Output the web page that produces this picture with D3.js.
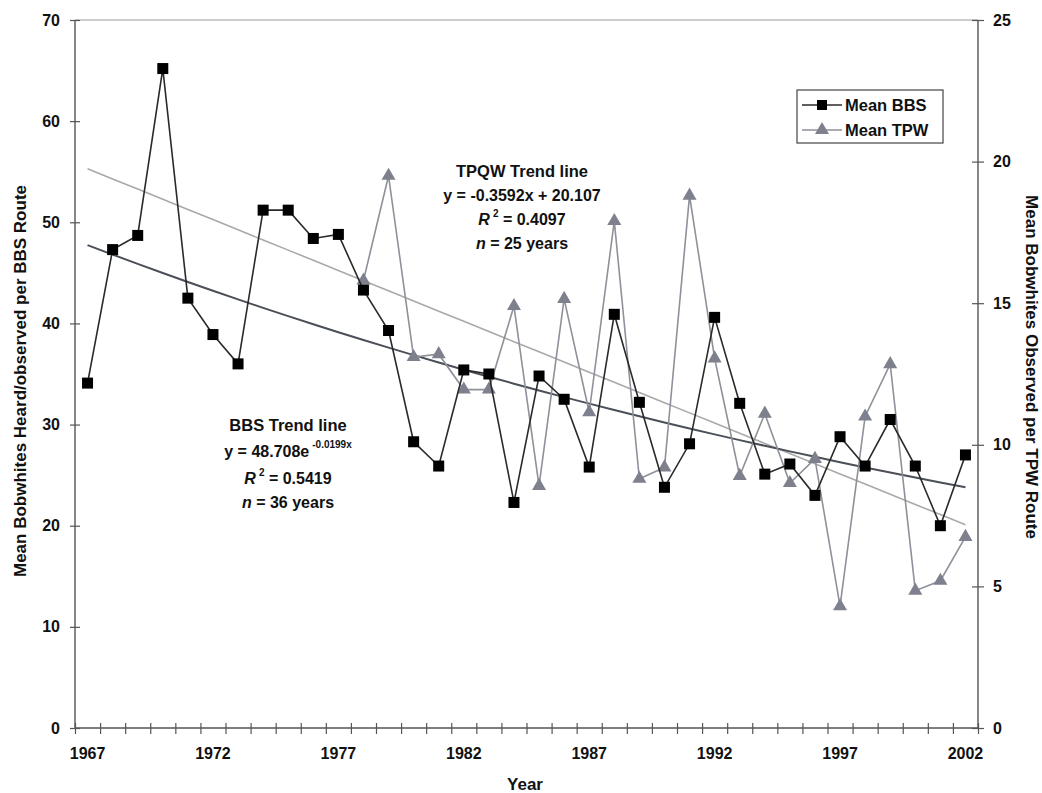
<!DOCTYPE html>
<html>
<head>
<meta charset="utf-8">
<script src="https://cdn.jsdelivr.net/npm/d3@7/dist/d3.min.js"></script>
<style>
  body { margin: 0; background: #fff; }
  svg text { font-family: "Liberation Sans", Arial, sans-serif; fill: #111; }
</style>
</head>
<body>
<script>
// - Bobwhite counts, BBS vs TPW -

// Data
const years = d3.range(1967, 2003);
const bbsMean = [34.1, 47.3, 48.7, 65.2, 42.5, 38.9, 36.0, 51.2, 51.2, 48.4,
                 48.8, 43.3, 39.3, 28.3, 25.9, 35.4, 35.0, 22.3, 34.8, 32.5,
                 25.8, 40.9, 32.2, 23.8, 28.1, 40.6, 32.1, 25.1, 26.1, 23.0,
                 28.8, 25.9, 30.5, 25.9, 20.0, 27.0];
const tpwYears = d3.range(1978, 2003);
const tpwMean = [15.8, 19.5, 13.1, 13.2, 11.95, 11.95, 14.9, 8.55, 15.15, 11.15,
                 17.9, 8.8, 9.2, 18.8, 13.05, 8.9, 11.1, 8.65, 9.5, 4.3,
                 11.0, 12.85, 4.85, 5.2, 6.75];
const xTickLabels = [1967, 1972, 1977, 1982, 1987, 1992, 1997, 2002];
const leftTicks = [0, 10, 20, 30, 40, 50, 60, 70];
const rightTicks = [0, 5, 10, 15, 20, 25];

// Trend lines (x = 1..36 from 1967)
const bbsTrend = i => 48.708 * Math.exp(-0.0199 * i);
const tpwTrend = i => -0.3592 * i + 20.107;

// Chart size
const w = 1042, h = 793;
const pLeft = 75, pRight = 978, pTop = 20, pBottom = 728;

const svg = d3.select("body").append("svg")
  .attr("width", w).attr("height", h);

// Scales
const x = d3.scaleLinear().domain([1966.5, 2002.5]).range([pLeft, pRight]);
const yL = d3.scaleLinear().domain([0, 70]).range([pBottom, pTop]);
const yR = d3.scaleLinear().domain([0, 25]).range([pBottom, pTop]);

// Plot border (top)
svg.append("line")
  .attr("x1", pLeft).attr("x2", pRight).attr("y1", pTop).attr("y2", pTop)
  .attr("stroke", "#9a9a9a").attr("stroke-width", 1.2);

// Axes
const axisColor = "#555";

const xAxis = svg.append("g")
  .attr("transform", `translate(0,${pBottom})`)
  .call(d3.axisBottom(x)
    .tickValues(d3.range(1966.5, 2003, 1))
    .tickSize(6).tickFormat(""));
xAxis.selectAll(".tick line").attr("y1", -5);

svg.append("g")
  .selectAll("text")
  .data(xTickLabels)
  .enter()
  .append("text")
  .attr("x", d => x(d))
  .attr("y", 759)
  .attr("text-anchor", "middle")
  .attr("font-size", 16)
  .attr("font-weight", "bold")
  .text(d => d);

const yAxisL = svg.append("g")
  .attr("transform", `translate(${pLeft},0)`)
  .call(d3.axisLeft(yL).tickValues(leftTicks).tickSize(5).tickPadding(10));
yAxisL.selectAll(".tick line").attr("x1", 5);

const yAxisR = svg.append("g")
  .attr("transform", `translate(${pRight},0)`)
  .call(d3.axisRight(yR).tickValues(rightTicks).tickSize(6).tickPadding(9));
yAxisR.selectAll(".tick line").attr("x1", -6);

[xAxis, yAxisL, yAxisR].forEach(g => {
  g.select(".domain").attr("stroke", axisColor).attr("stroke-width", 1.4);
  g.selectAll(".tick line").attr("stroke", axisColor).attr("stroke-width", 1.2);
  g.selectAll(".tick text").attr("font-size", 16).attr("fill", "#111")
    .attr("font-weight", "bold")
    .attr("font-family", "Liberation Sans, Arial, sans-serif");
});
xAxis.select(".domain").attr("d", `M${pLeft},0H${pRight}`);
yAxisL.select(".domain").attr("d", `M0,${pBottom}V${pTop}`);
yAxisR.select(".domain").attr("d", `M0,${pBottom}V${pTop}`);

// Axis titles
svg.append("text")
  .attr("transform", `translate(26,381) rotate(-90)`)
  .attr("text-anchor", "middle")
  .attr("font-size", 17).attr("font-weight", "bold")
  .text("Mean Bobwhites Heard/observed per BBS Route");

svg.append("text")
  .attr("transform", `translate(1026,367) rotate(90)`)
  .attr("text-anchor", "middle")
  .attr("font-size", 17).attr("font-weight", "bold")
  .text("Mean Bobwhites Observed per TPW Route");

svg.append("text")
  .attr("x", 525).attr("y", 790)
  .attr("text-anchor", "middle")
  .attr("font-size", 17).attr("font-weight", "bold")
  .text("Year");

// Trend lines
const idx = d3.range(1, 37);
svg.append("path")
  .datum(idx)
  .attr("fill", "none")
  .attr("stroke", "#a9a9a9").attr("stroke-width", 1.6)
  .attr("d", d3.line().x(i => x(1966 + i)).y(i => yR(tpwTrend(i))));

svg.append("path")
  .datum(idx)
  .attr("fill", "none")
  .attr("stroke", "#4a4f58").attr("stroke-width", 2)
  .attr("d", d3.line().x(i => x(1966 + i)).y(i => yL(bbsTrend(i))));

// TPW series
const tpw = tpwYears.map((yr, i) => ({ yr, v: tpwMean[i] }));
svg.append("path")
  .datum(tpw)
  .attr("fill", "none")
  .attr("stroke", "#8e9199").attr("stroke-width", 1.6)
  .attr("d", d3.line().x(d => x(d.yr)).y(d => yR(d.v)));

const tri = d3.symbol().type(d3.symbolTriangle).size(85);
svg.append("g")
  .selectAll("path")
  .data(tpw)
  .enter()
  .append("path")
  .attr("transform", d => `translate(${x(d.yr)},${yR(d.v)})`)
  .attr("d", tri)
  .attr("fill", "#7e818d");

// BBS series
const bbs = years.map((yr, i) => ({ yr, v: bbsMean[i] }));
svg.append("path")
  .datum(bbs)
  .attr("fill", "none")
  .attr("stroke", "#2a2a2a").attr("stroke-width", 1.6)
  .attr("d", d3.line().x(d => x(d.yr)).y(d => yL(d.v)));

svg.append("g")
  .selectAll("rect")
  .data(bbs)
  .enter()
  .append("rect")
  .attr("x", d => x(d.yr) - 5.5)
  .attr("y", d => yL(d.v) - 5.5)
  .attr("width", 11).attr("height", 11)
  .attr("fill", "#000");

// Annotations
function note(cx, ys, title, eq, r2, n) {
  const g = svg.append("g").attr("text-anchor", "middle")
    .attr("font-size", 16).attr("font-weight", "bold");
  g.append("text").attr("x", cx).attr("y", ys[0])
    .attr("font-size", 16.5).text(title);
  const e = g.append("text").attr("x", cx).attr("y", ys[1]);
  e.append("tspan").text(eq[0]);
  if (eq[1]) e.append("tspan").attr("dx", 3).attr("dy", -9).attr("font-size", 10).text(eq[1]);
  const r = g.append("text").attr("x", cx).attr("y", ys[2]);
  r.append("tspan").attr("font-style", "italic").text("R");
  r.append("tspan").attr("dx", 3).attr("dy", -8).attr("font-size", 10).text("2");
  r.append("tspan").attr("dy", 8).text(" = " + r2);
  const t = g.append("text").attr("x", cx).attr("y", ys[3]);
  t.append("tspan").attr("font-style", "italic").text("n");
  t.append("tspan").text(" = " + n);
}

note(522, [177, 201, 225, 249], "TPQW Trend line",
     ["y = -0.3592x + 20.107"], "0.4097", "25 years");
note(288, [431, 457, 484, 508], "BBS Trend line",
     ["y = 48.708e", "-0.0199x"], "0.5419", "36 years");

// Legend
const legend = svg.append("g").attr("transform", "translate(797,90)");
legend.append("rect")
  .attr("width", 146).attr("height", 53)
  .attr("fill", "#fff").attr("stroke", "#444").attr("stroke-width", 1.2);

const items = [
  { name: "Mean BBS", color: "#2a2a2a", marker: "square" },
  { name: "Mean TPW", color: "#8e9199", marker: "triangle" }
];
items.forEach((d, i) => {
  const yy = 15 + i * 25;
  legend.append("line")
    .attr("x1", 5).attr("x2", 45).attr("y1", yy).attr("y2", yy)
    .attr("stroke", d.color).attr("stroke-width", 1.6);
  if (d.marker === "square") {
    legend.append("rect").attr("x", 20).attr("y", yy - 5)
      .attr("width", 10).attr("height", 10).attr("fill", "#000");
  } else {
    legend.append("path").attr("transform", `translate(25,${yy})`)
      .attr("d", tri).attr("fill", "#7e818d");
  }
  legend.append("text")
    .attr("x", 48).attr("y", yy + 6)
    .attr("font-size", 16.5).attr("font-weight", "bold")
    .text(d.name);
});
</script>
</body>
</html>
